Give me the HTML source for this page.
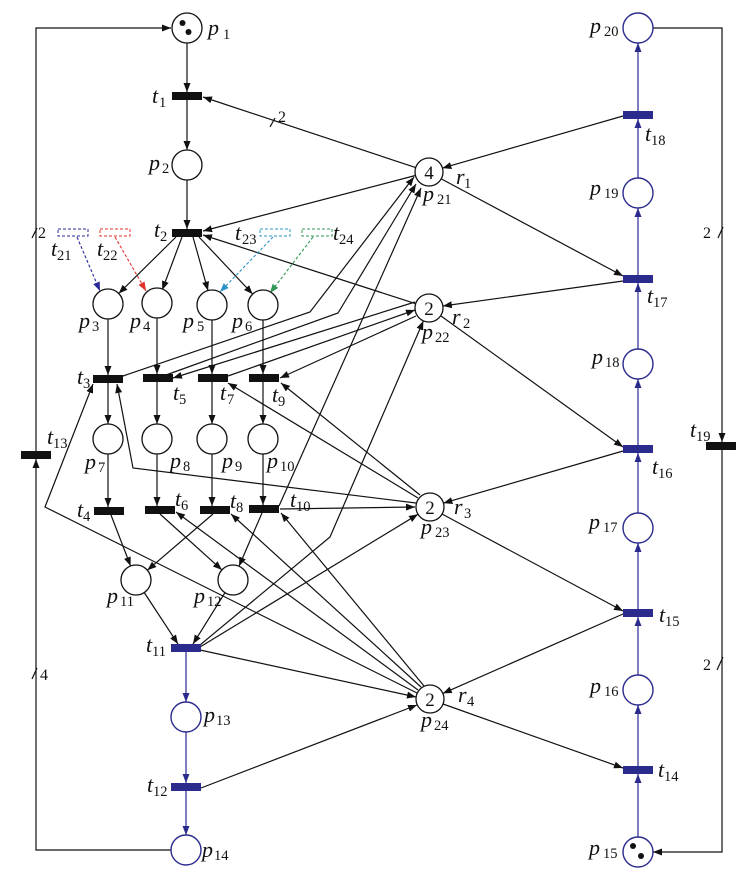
<!DOCTYPE html>
<html><head><meta charset="utf-8"><style>
html,body{margin:0;padding:0;background:#fff;}
svg{display:block;}
.m{font-family:"Liberation Serif",serif;font-style:italic;font-size:22px;fill:#111;}
.s{font-family:"Liberation Serif",serif;font-size:14.5px;fill:#111;}
.n{font-family:"Liberation Serif",serif;font-size:19px;fill:#111;}
.k{stroke:#111;stroke-width:1.2;fill:none;}
.b{stroke:#3a3a9e;stroke-width:1.3;fill:none;}
.pc{fill:#fff;stroke:#111;stroke-width:1.3;}
.pb{fill:#fff;stroke:#2b2b8e;stroke-width:1.4;}
.tk{fill:#111;}
.tb{fill:#2b2b8e;}
</style></head><body>
<svg width="750" height="879" viewBox="0 0 750 879" xmlns="http://www.w3.org/2000/svg">
<defs>
<marker id="ak" markerUnits="userSpaceOnUse" markerWidth="10" markerHeight="8" refX="9" refY="3.5" orient="auto"><path d="M0,0 L9,3.5 L0,7 z" fill="#111"/></marker>
<marker id="ab" markerUnits="userSpaceOnUse" markerWidth="10" markerHeight="8" refX="9" refY="3.5" orient="auto"><path d="M0,0 L9,3.5 L0,7 z" fill="#2b2b8e"/></marker>
<marker id="ad1" markerUnits="userSpaceOnUse" markerWidth="10" markerHeight="8" refX="9" refY="3.5" orient="auto"><path d="M0,0 L9,3.5 L0,7 z" fill="#2a2a9a"/></marker>
<marker id="ad2" markerUnits="userSpaceOnUse" markerWidth="10" markerHeight="8" refX="9" refY="3.5" orient="auto"><path d="M0,0 L9,3.5 L0,7 z" fill="#e3302a"/></marker>
<marker id="ad3" markerUnits="userSpaceOnUse" markerWidth="10" markerHeight="8" refX="9" refY="3.5" orient="auto"><path d="M0,0 L9,3.5 L0,7 z" fill="#2d93c6"/></marker>
<marker id="ad4" markerUnits="userSpaceOnUse" markerWidth="10" markerHeight="8" refX="9" refY="3.5" orient="auto"><path d="M0,0 L9,3.5 L0,7 z" fill="#2e9955"/></marker>
</defs>

<!-- feedback loops -->
<polyline class="k" points="171,850 36,850 36,459" marker-end="url(#ak)"/>
<polyline class="k" points="36,452 36,28 171,28" marker-end="url(#ak)"/>
<polyline class="k" points="653,28 722,28 722,442" marker-end="url(#ak)"/>
<polyline class="k" points="722,450 722,852 653,852" marker-end="url(#ak)"/>

<!-- main vertical chain -->
<line class="k" x1="187" y1="43" x2="187" y2="92" marker-end="url(#ak)"/>
<line class="k" x1="187" y1="100" x2="187" y2="150" marker-end="url(#ak)"/>
<line class="k" x1="187" y1="180" x2="187" y2="229" marker-end="url(#ak)"/>
<line class="k" x1="176" y1="237" x2="118.7" y2="293.5" marker-end="url(#ak)"/>
<line class="k" x1="182" y1="237" x2="162.2" y2="290" marker-end="url(#ak)"/>
<line class="k" x1="193" y1="237" x2="208" y2="290.6" marker-end="url(#ak)"/>
<line class="k" x1="199" y1="237" x2="252.7" y2="294.1" marker-end="url(#ak)"/>

<line class="k" x1="108" y1="319" x2="108" y2="375" marker-end="url(#ak)"/>
<line class="k" x1="157" y1="318" x2="157" y2="374" marker-end="url(#ak)"/>
<line class="k" x1="212" y1="320" x2="212" y2="374" marker-end="url(#ak)"/>
<line class="k" x1="263" y1="320" x2="263" y2="374" marker-end="url(#ak)"/>
<line class="k" x1="108" y1="383" x2="108" y2="424" marker-end="url(#ak)"/>
<line class="k" x1="157" y1="382" x2="157" y2="424" marker-end="url(#ak)"/>
<line class="k" x1="212" y1="382" x2="212" y2="424" marker-end="url(#ak)"/>
<line class="k" x1="263" y1="382" x2="263" y2="424" marker-end="url(#ak)"/>
<line class="k" x1="108" y1="454" x2="108" y2="507" marker-end="url(#ak)"/>
<line class="k" x1="157" y1="454" x2="157" y2="506" marker-end="url(#ak)"/>
<line class="k" x1="212" y1="454" x2="212" y2="506" marker-end="url(#ak)"/>
<line class="k" x1="263" y1="454" x2="263" y2="505" marker-end="url(#ak)"/>

<line class="k" x1="111" y1="515" x2="130.6" y2="566" marker-end="url(#ak)"/>
<line class="k" x1="213" y1="514" x2="147.4" y2="570.2" marker-end="url(#ak)"/>
<line class="k" x1="160" y1="514" x2="221.9" y2="569.9" marker-end="url(#ak)"/>
<line class="k" x1="262" y1="513" x2="239" y2="566.2" marker-end="url(#ak)"/>
<line class="k" x1="144.2" y1="592.5" x2="178" y2="644" marker-end="url(#ak)"/>
<line class="k" x1="225" y1="592.7" x2="193" y2="644" marker-end="url(#ak)"/>

<!-- blue left chain -->
<line class="b" x1="186" y1="652" x2="186" y2="702" marker-end="url(#ab)"/>
<line class="b" x1="186" y1="732" x2="186" y2="783" marker-end="url(#ab)"/>
<line class="b" x1="186" y1="791" x2="186" y2="835" marker-end="url(#ab)"/>

<!-- resource p21 -->
<line class="k" x1="415.7" y1="167.6" x2="203" y2="97" marker-end="url(#ak)"/>
<line class="k" x1="415.4" y1="175.5" x2="203" y2="231" marker-end="url(#ak)"/>
<polyline class="k" points="123,376 310,312 414,177" marker-end="url(#ak)"/>
<polyline class="k" points="166,375 338,313 416,184" marker-end="url(#ak)"/>
<line class="k" x1="279" y1="506" x2="421" y2="188" marker-end="url(#ak)"/>
<line class="k" x1="623" y1="116" x2="442.4" y2="168.1" marker-end="url(#ak)"/>
<line class="k" x1="441.5" y1="179" x2="623" y2="276" marker-end="url(#ak)"/>

<!-- resource p22 -->
<line class="k" x1="415.7" y1="303.7" x2="203" y2="235" marker-end="url(#ak)"/>
<line class="k" x1="228" y1="376" x2="415" y2="310" marker-end="url(#ak)"/>
<line class="k" x1="415" y1="302" x2="173" y2="378" marker-end="url(#ak)"/>
<line class="k" x1="416" y1="316" x2="280" y2="378" marker-end="url(#ak)"/>
<polyline class="k" points="200,645 330,537 423.4,320.9" marker-end="url(#ak)"/>
<line class="k" x1="623" y1="281" x2="442.9" y2="306" marker-end="url(#ak)"/>
<line class="k" x1="441" y1="316" x2="623" y2="447" marker-end="url(#ak)"/>

<!-- resource p23 -->
<polyline class="k" points="416,503 133,468 117,384" marker-end="url(#ak)"/>
<line class="k" x1="418" y1="498" x2="228" y2="383" marker-end="url(#ak)"/>
<line class="k" x1="420" y1="495" x2="281" y2="383" marker-end="url(#ak)"/>
<line class="k" x1="280" y1="509" x2="415" y2="507" marker-end="url(#ak)"/>
<line class="k" x1="200" y1="647" x2="418" y2="514.3" marker-end="url(#ak)"/>
<line class="k" x1="623" y1="451" x2="443.4" y2="503.1" marker-end="url(#ak)"/>
<line class="k" x1="442" y1="514" x2="623" y2="611" marker-end="url(#ak)"/>

<!-- resource p24 -->
<polyline class="k" points="417,693 45,507 93,384" marker-end="url(#ak)"/>
<line class="k" x1="418" y1="690" x2="176" y2="512" marker-end="url(#ak)"/>
<line class="k" x1="421" y1="687" x2="231" y2="514" marker-end="url(#ak)"/>
<line class="k" x1="424" y1="686" x2="281" y2="513" marker-end="url(#ak)"/>
<line class="k" x1="200" y1="650" x2="416" y2="697" marker-end="url(#ak)"/>
<line class="k" x1="201" y1="788" x2="417" y2="705" marker-end="url(#ak)"/>
<line class="k" x1="623" y1="614" x2="442.8" y2="693.4" marker-end="url(#ak)"/>
<line class="k" x1="443" y1="704" x2="623" y2="768" marker-end="url(#ak)"/>

<!-- blue right chain -->
<line class="b" x1="638" y1="837" x2="638" y2="774" marker-end="url(#ab)"/>
<line class="b" x1="638" y1="766" x2="638" y2="705" marker-end="url(#ab)"/>
<line class="b" x1="638" y1="675" x2="638" y2="617" marker-end="url(#ab)"/>
<line class="b" x1="638" y1="609" x2="638" y2="543" marker-end="url(#ab)"/>
<line class="b" x1="638" y1="513" x2="638" y2="453" marker-end="url(#ab)"/>
<line class="b" x1="638" y1="445" x2="638" y2="379" marker-end="url(#ab)"/>
<line class="b" x1="638" y1="349" x2="638" y2="283" marker-end="url(#ab)"/>
<line class="b" x1="638" y1="275" x2="638" y2="208" marker-end="url(#ab)"/>
<line class="b" x1="638" y1="178" x2="638" y2="119" marker-end="url(#ab)"/>
<line class="b" x1="638" y1="111" x2="638" y2="43" marker-end="url(#ab)"/>

<!-- dashed controllers -->
<rect x="58" y="229" width="30" height="7" fill="none" stroke="#2a2a9a" stroke-width="1" stroke-dasharray="3,2"/>
<line x1="77" y1="237" x2="100" y2="291" stroke="#2a2a9a" stroke-width="1.1" stroke-dasharray="3,2" marker-end="url(#ad1)"/>
<rect x="100" y="229" width="30" height="7" fill="none" stroke="#e3302a" stroke-width="1" stroke-dasharray="3,2"/>
<line x1="115" y1="237" x2="146" y2="291" stroke="#e3302a" stroke-width="1.1" stroke-dasharray="3,2" marker-end="url(#ad2)"/>
<rect x="260" y="229" width="30" height="7" fill="none" stroke="#2d93c6" stroke-width="1" stroke-dasharray="3,2"/>
<line x1="273" y1="237" x2="220" y2="292" stroke="#2d93c6" stroke-width="1.1" stroke-dasharray="3,2" marker-end="url(#ad3)"/>
<rect x="302" y="229" width="30" height="7" fill="none" stroke="#2e9955" stroke-width="1" stroke-dasharray="3,2"/>
<line x1="313" y1="237" x2="270" y2="293" stroke="#2e9955" stroke-width="1.1" stroke-dasharray="3,2" marker-end="url(#ad4)"/>

<!-- weight ticks -->
<line class="k" x1="270" y1="127" x2="275" y2="118"/>
<line class="k" x1="32" y1="238" x2="37" y2="228"/>
<line class="k" x1="32" y1="679" x2="37" y2="668"/>
<line class="k" x1="718" y1="238" x2="723" y2="227"/>
<line class="k" x1="717" y1="670" x2="723" y2="657"/>

<!-- places black -->
<circle class="pc" cx="187" cy="28" r="15"/>
<circle class="tk" cx="182.5" cy="23" r="3"/>
<circle class="tk" cx="188.5" cy="32" r="3"/>
<circle class="pc" cx="187" cy="165" r="15"/>
<circle class="pc" cx="108" cy="304" r="15"/>
<circle class="pc" cx="157" cy="303" r="15"/>
<circle class="pc" cx="212" cy="305" r="15"/>
<circle class="pc" cx="263" cy="305" r="15"/>
<circle class="pc" cx="108" cy="439" r="15"/>
<circle class="pc" cx="157" cy="439" r="15"/>
<circle class="pc" cx="212" cy="439" r="15"/>
<circle class="pc" cx="263" cy="439" r="15"/>
<circle class="pc" cx="136" cy="580" r="15"/>
<circle class="pc" cx="233" cy="580" r="15"/>
<circle class="pc" cx="429" cy="172" r="14"/>
<circle class="pc" cx="429" cy="308" r="14"/>
<circle class="pc" cx="430" cy="507" r="14"/>
<circle class="pc" cx="430" cy="699" r="14"/>
<text class="n" x="429" y="179" text-anchor="middle">4</text>
<text class="n" x="429" y="315" text-anchor="middle">2</text>
<text class="n" x="430" y="514" text-anchor="middle">2</text>
<text class="n" x="430" y="706" text-anchor="middle">2</text>

<!-- places blue -->
<circle class="pb" cx="186" cy="717" r="15"/>
<circle class="pb" cx="186" cy="850" r="15"/>
<circle class="pb" cx="638" cy="28" r="15"/>
<circle class="pb" cx="638" cy="193" r="15"/>
<circle class="pb" cx="638" cy="364" r="15"/>
<circle class="pb" cx="638" cy="528" r="15"/>
<circle class="pb" cx="638" cy="690" r="15"/>
<circle class="pb" cx="638" cy="852" r="15"/>
<circle class="tk" cx="633" cy="846" r="3"/>
<circle class="tk" cx="641" cy="856" r="3"/>

<!-- transitions black -->
<rect class="tk" x="172" y="92" width="30" height="8"/>
<rect class="tk" x="172" y="229" width="30" height="8"/>
<rect class="tk" x="93" y="375" width="30" height="8"/>
<rect class="tk" x="143" y="374" width="30" height="8"/>
<rect class="tk" x="198" y="374" width="30" height="8"/>
<rect class="tk" x="249" y="374" width="30" height="8"/>
<rect class="tk" x="94" y="507" width="30" height="8"/>
<rect class="tk" x="145" y="506" width="30" height="8"/>
<rect class="tk" x="200" y="506" width="30" height="8"/>
<rect class="tk" x="249" y="505" width="30" height="8"/>
<rect class="tk" x="21" y="451" width="30" height="8"/>
<rect class="tk" x="706" y="442" width="30" height="8"/>
<!-- transitions blue -->
<rect class="tb" x="171" y="644" width="30" height="8"/>
<rect class="tb" x="171" y="783" width="30" height="8"/>
<rect class="tb" x="623" y="111" width="30" height="8"/>
<rect class="tb" x="623" y="275" width="30" height="8"/>
<rect class="tb" x="623" y="445" width="30" height="8"/>
<rect class="tb" x="623" y="609" width="30" height="8"/>
<rect class="tb" x="623" y="766" width="30" height="8"/>

<!-- weight labels -->
<text class="s" x="278" y="122" style="font-size:16px">2</text>
<text class="s" x="38" y="238" style="font-size:16px">2</text>
<text class="s" x="40" y="680" style="font-size:16px">4</text>
<text class="s" x="703" y="238" style="font-size:16px">2</text>
<text class="s" x="703" y="670" style="font-size:16px">2</text>

<!-- labels -->
<text class="m" x="208" y="35">p</text><text class="s" x="223" y="39">1</text>
<text class="m" x="152" y="103">t</text><text class="s" x="159" y="107">1</text>
<text class="m" x="149" y="170">p</text><text class="s" x="162" y="173">2</text>
<text class="m" x="154" y="237">t</text><text class="s" x="160" y="241">2</text>
<text class="m" x="51" y="256">t</text><text class="s" x="57" y="260">21</text>
<text class="m" x="97" y="256">t</text><text class="s" x="103" y="260">22</text>
<text class="m" x="235" y="240">t</text><text class="s" x="242" y="244">23</text>
<text class="m" x="333" y="240">t</text><text class="s" x="339" y="244">24</text>
<text class="m" x="79" y="328">p</text><text class="s" x="92" y="331">3</text>
<text class="m" x="130" y="328">p</text><text class="s" x="143" y="331">4</text>
<text class="m" x="183" y="328">p</text><text class="s" x="197" y="331">5</text>
<text class="m" x="232" y="328">p</text><text class="s" x="245" y="331">6</text>
<text class="m" x="77" y="384">t</text><text class="s" x="83" y="388">3</text>
<text class="m" x="173" y="400">t</text><text class="s" x="179" y="404">5</text>
<text class="m" x="220" y="400">t</text><text class="s" x="227" y="404">7</text>
<text class="m" x="272" y="402">t</text><text class="s" x="278" y="406">9</text>
<text class="m" x="85" y="469">p</text><text class="s" x="98" y="472">7</text>
<text class="m" x="170" y="468">p</text><text class="s" x="183" y="471">8</text>
<text class="m" x="222" y="468">p</text><text class="s" x="235" y="471">9</text>
<text class="m" x="267" y="468">p</text><text class="s" x="280" y="471">10</text>
<text class="m" x="47" y="444">t</text><text class="s" x="53" y="448">13</text>
<text class="m" x="77" y="517">t</text><text class="s" x="83" y="521">4</text>
<text class="m" x="175" y="506">t</text><text class="s" x="181" y="510">6</text>
<text class="m" x="230" y="508">t</text><text class="s" x="236" y="512">8</text>
<text class="m" x="290" y="507">t</text><text class="s" x="296" y="511">10</text>
<text class="m" x="107" y="603">p</text><text class="s" x="120" y="606">11</text>
<text class="m" x="194" y="603">p</text><text class="s" x="207" y="606">12</text>
<text class="m" x="146" y="652">t</text><text class="s" x="152" y="656">11</text>
<text class="m" x="204" y="722">p</text><text class="s" x="216" y="725">13</text>
<text class="m" x="147" y="792">t</text><text class="s" x="153" y="796">12</text>
<text class="m" x="202" y="857">p</text><text class="s" x="214" y="860">14</text>

<text class="m" x="590" y="33">p</text><text class="s" x="604" y="36">20</text>
<text class="m" x="645" y="141">t</text><text class="s" x="651" y="145">18</text>
<text class="m" x="590" y="195">p</text><text class="s" x="604" y="198">19</text>
<text class="m" x="456" y="184">r</text><text class="s" x="464" y="188">1</text>
<text class="m" x="423" y="201">p</text><text class="s" x="437" y="204">21</text>
<text class="m" x="647" y="303">t</text><text class="s" x="653" y="307">17</text>
<text class="m" x="592" y="364">p</text><text class="s" x="605" y="367">18</text>
<text class="m" x="452" y="324">r</text><text class="s" x="463" y="328">2</text>
<text class="m" x="422" y="339">p</text><text class="s" x="435" y="342">22</text>
<text class="m" x="652" y="474">t</text><text class="s" x="658" y="478">16</text>
<text class="m" x="589" y="529">p</text><text class="s" x="603" y="532">17</text>
<text class="m" x="690" y="437">t</text><text class="s" x="696" y="441">19</text>
<text class="m" x="454" y="514">r</text><text class="s" x="464" y="518">3</text>
<text class="m" x="421" y="534">p</text><text class="s" x="435" y="537">23</text>
<text class="m" x="659" y="622">t</text><text class="s" x="665" y="626">15</text>
<text class="m" x="590" y="693">p</text><text class="s" x="604" y="696">16</text>
<text class="m" x="458" y="702">r</text><text class="s" x="467" y="706">4</text>
<text class="m" x="421" y="727">p</text><text class="s" x="434" y="730">24</text>
<text class="m" x="658" y="777">t</text><text class="s" x="664" y="781">14</text>
<text class="m" x="589" y="855">p</text><text class="s" x="603" y="858">15</text>
</svg>
</body></html>
